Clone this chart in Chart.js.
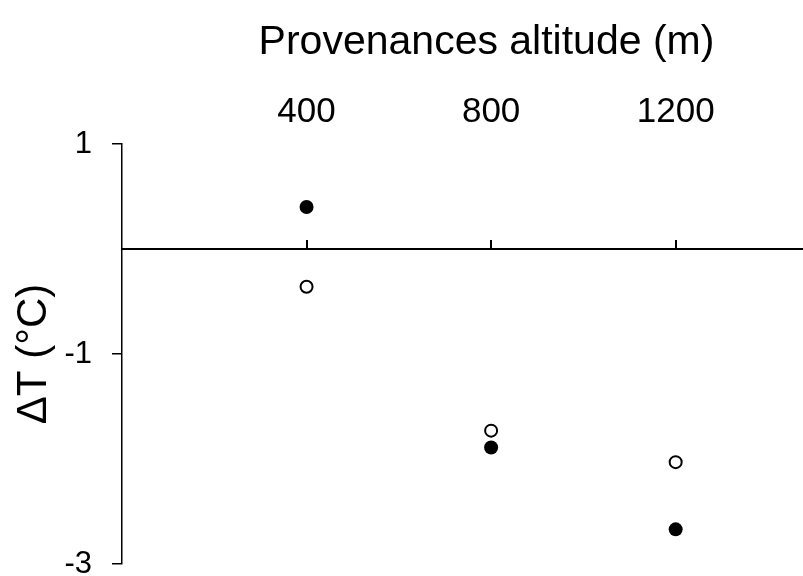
<!DOCTYPE html>
<html>
<head>
<meta charset="utf-8">
<script src="https://cdn.jsdelivr.net/npm/chart.js@4/dist/chart.umd.min.js"></script>
<style>
  html, body { margin: 0; padding: 0; background: #fff; overflow: hidden; }
</style>
</head>
<body>
<canvas id="chart" width="851" height="576"></canvas>
<script>
// provenance altitude (m) and temperature difference (°C)
const altitudes = [400, 800, 1200];
const filledDT = [0.40, -1.89, -2.67];
const openDT = [-0.36, -1.73, -2.03];
const yTicks = [1, -1, -3];

const X_MAX = 1580; // axis runs on past the right edge of the window
const FONT = "'Liberation Sans', Arial, sans-serif";

function toPoints(xs, ys) {
    return xs.map((x, i) => ({ x: x, y: ys[i] }));
}

function fixedTicks(values) {
    return scale => { scale.ticks = values.map(v => ({ value: v })); };
}

function noPadding(scale) {
    scale.paddingLeft = 0;
    scale.paddingRight = 0;
    scale.paddingTop = 0;
    scale.paddingBottom = 0;
}

const ctx = document.getElementById("chart");

new Chart(ctx, {
    type: "scatter",
    data: {
        datasets: [
            {
                data: toPoints(altitudes, filledDT),
                pointRadius: 7,
                pointBackgroundColor: "#000",
                pointBorderColor: "#000",
                pointBorderWidth: 0
            },
            {
                data: toPoints(altitudes, openDT),
                pointRadius: 6,
                pointBackgroundColor: "#fff",
                pointBorderColor: "#000",
                pointBorderWidth: 2
            }
        ]
    },
    options: {
        responsive: false,
        animation: false,
        layout: {
            autoPadding: false,
            padding: { top: 0, right: 0, bottom: 12, left: 0 }
        },
        plugins: {
            legend: { display: false },
            tooltip: { enabled: false }
        },
        scales: {
            x: {
                type: "linear",
                position: "top",
                min: 0,
                max: X_MAX,
                afterBuildTicks: fixedTicks(altitudes),
                afterFit: scale => { scale.height = 144; noPadding(scale); },
                grid: { display: false, drawTicks: false },
                border: { display: false },
                ticks: {
                    color: "#000",
                    font: { family: FONT, size: 35 },
                    padding: 11,
                    maxRotation: 0,
                    callback: v => String(v)
                },
                title: {
                    display: true,
                    text: "Provenances altitude (m)",
                    color: "#000",
                    font: { family: FONT, size: 41 },
                    padding: { top: 18, bottom: 0 }
                }
            },
            // zero line with upward tick marks
            x2: {
                type: "linear",
                position: { y: 0 },
                min: 0,
                max: X_MAX,
                afterBuildTicks: fixedTicks(altitudes),
                afterFit: scale => { scale.height = 0; noPadding(scale); },
                grid: {
                    display: true,
                    drawOnChartArea: false,
                    drawTicks: true,
                    tickLength: -10,
                    color: "#000",
                    lineWidth: 2
                },
                border: { display: true, color: "#000", width: 2 },
                ticks: { display: false }
            },
            y: {
                type: "linear",
                position: "left",
                min: -3,
                max: 1,
                afterBuildTicks: fixedTicks(yTicks),
                afterFit: scale => { scale.width = 122; noPadding(scale); },
                grid: {
                    display: true,
                    drawOnChartArea: false,
                    drawTicks: true,
                    tickLength: 10,
                    color: "#000",
                    lineWidth: 1.5
                },
                border: { display: true, color: "#000", width: 1.5 },
                ticks: {
                    color: "#000",
                    font: { family: FONT, size: 31 },
                    padding: 20
                },
                title: {
                    display: true,
                    text: "ΔT (°C)",
                    color: "#000",
                    font: { family: FONT, size: 42 },
                    padding: { top: 9, bottom: 0 }
                }
            }
        }
    }
});
</script>
</body>
</html>
